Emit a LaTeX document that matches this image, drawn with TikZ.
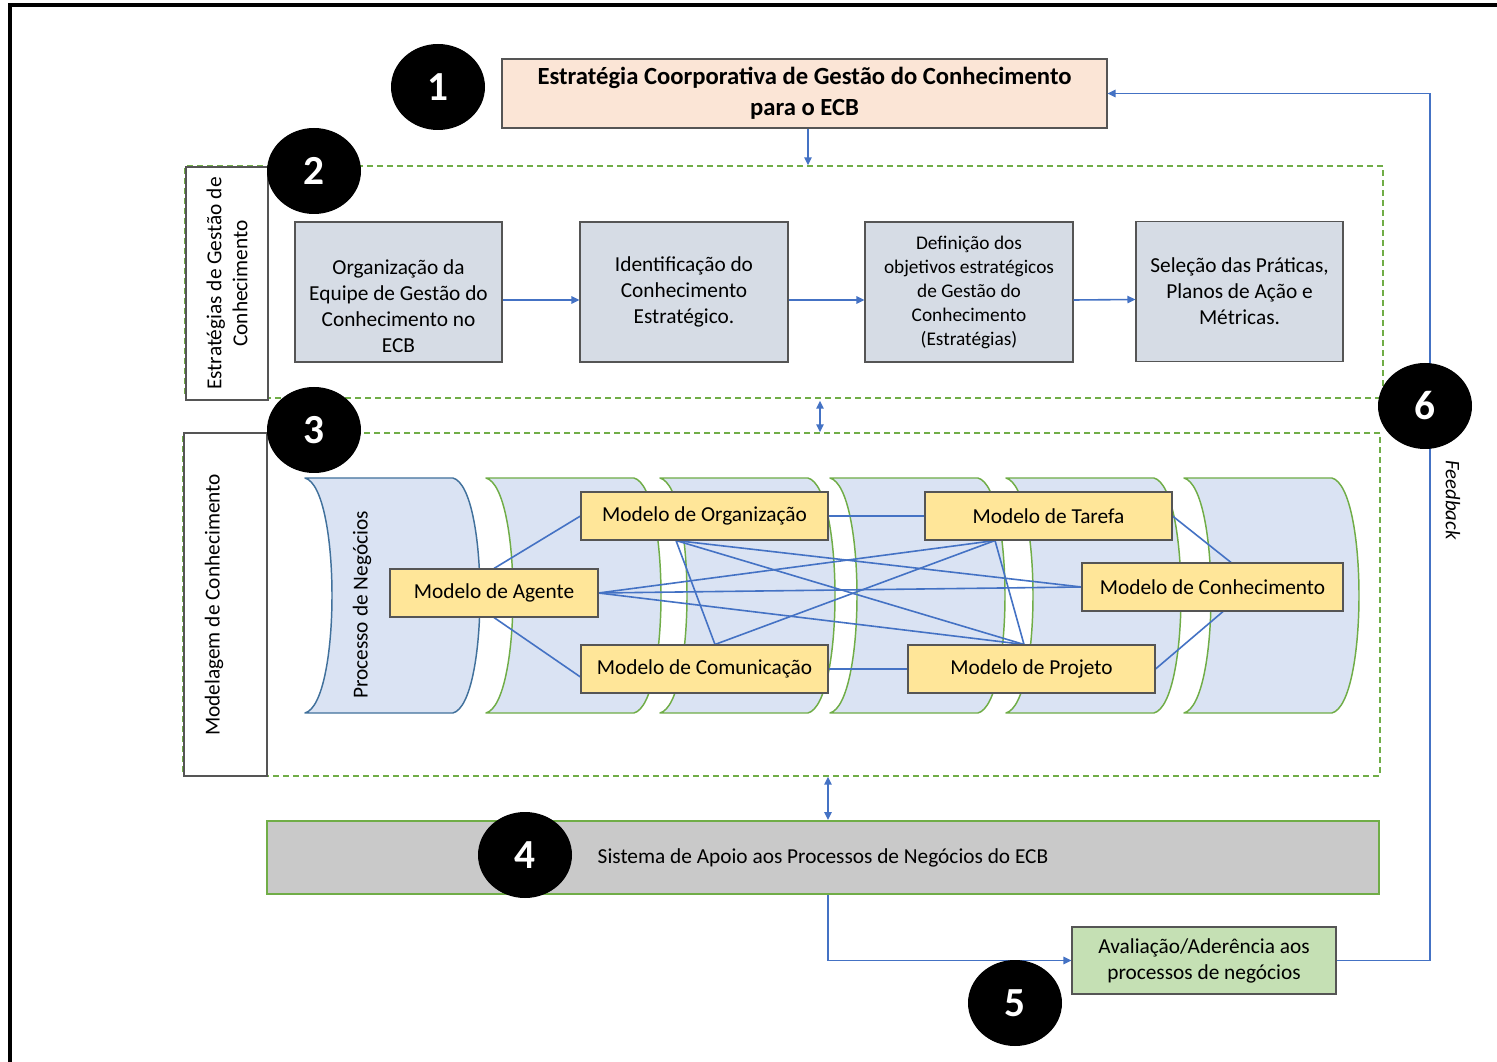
\documentclass[tikz,border=0pt]{standalone}
\usepackage{fontspec}
\setmainfont{Carlito}
\usetikzlibrary{arrows.meta,calc,shapes.geometric}

\definecolor{peach}{HTML}{FBE5D6}
\definecolor{boxgrey}{HTML}{D6DCE5}
\definecolor{edgegrey}{HTML}{555555}
\definecolor{modelyellow}{HTML}{FFE699}
\definecolor{bandblue}{HTML}{DAE3F3}
\definecolor{bandedge}{HTML}{41719C}
\definecolor{officegreen}{HTML}{70AD47}
\definecolor{linkblue}{HTML}{4472C4}
\definecolor{barfill}{HTML}{C9C9C9}
\definecolor{evalgreen}{HTML}{C5E0B4}

\pgfdeclarelayer{backdrop}
\pgfdeclarelayer{under}
\pgfsetlayers{backdrop,under,main}

\begin{document}
\begin{tikzpicture}[x=0.75pt,y=-0.75pt,
  boxsize/.style 2 args={minimum width=#1*0.75pt, minimum height=#2*0.75pt},
  numdisc/.style={ellipse, fill=black, text=white, boxsize={94}{86}, inner sep=0pt,
    font=\fontsize{31}{31}\selectfont\bfseries},
  stepbox/.style={draw=edgegrey, fill=boxgrey, line width=0.8pt, align=center, inner sep=2pt,
    font=\fontsize{16}{19.5}\selectfont},
  modelbox/.style={draw=edgegrey, fill=modelyellow, line width=0.8pt, inner sep=0pt,
    font=\fontsize{16}{19.5}\selectfont},
  zone/.style={draw=officegreen, line width=1.1pt, dash pattern=on 4.5pt off 3pt, inner sep=0pt},
  sidebox/.style={draw=edgegrey, fill=white, line width=0.8pt, inner sep=0pt},
  plaintext/.style={inner sep=0pt, align=center, font=\fontsize{16}{19.5}\selectfont},
  link/.style={draw=linkblue, line width=1.2pt},
  flow/.style={link, -{Triangle[length=6pt,width=5.5pt]}},
  both/.style={link, {Triangle[length=6pt,width=5.5pt]}-{Triangle[length=6pt,width=5.5pt]}},
]
\useasboundingbox (0,0) rectangle (1497,1062);
\begin{pgfonlayer}{backdrop}
  \fill[white] (0,0) rectangle (1497,1062);
\end{pgfonlayer}

% page frame
\draw[line width=2.4pt] (10,1075) -- (10,5) -- (1510,5);

% dashed zones and their side labels
\node[zone, boxsize={1198}{232}] (g2) at (784,282) {};
\node[zone, boxsize={1197}{343}] (g3) at (781.5,604.5) {};
\node[sidebox, boxsize={82}{233}] (lab2) at (227,283.5) {};
\node[plaintext, rotate=90] (lab2txt) at (227,283.5) {Estratégias de Gestão de\\Conhecimento};
\node[sidebox, boxsize={83}{343}] (lab3) at (225.5,604.5) {};
\node[plaintext, rotate=90] (lab3txt) at (214,605) {Modelagem de Conhecimento};

% corporate strategy
\node[draw=edgegrey, fill=peach, line width=0.8pt, boxsize={605}{69}, align=center, inner sep=0pt,
  font=\fontsize{18.5}{23}\selectfont\bfseries] (title) at (804.5,93.5)
  {Estratégia Coorporativa de Gestão do Conhecimento\\para o ECB};

% strategy steps
\node[stepbox, boxsize={207}{140}] (b1) at (398.5,292) {};
\node[plaintext] (b1txt) at (398.5,306) {Organização da\\Equipe de Gestão do\\Conhecimento no\\ECB};
\node[stepbox, boxsize={208}{140}] (b2) at (684,292) {Identificação do\\Conhecimento\\Estratégico.};
\node[stepbox, boxsize={208}{140}, font=\fontsize{14.5}{18}\selectfont] (b3) at (969,292)
  {Definição dos\\objetivos estratégicos\\de Gestão do\\Conhecimento\\(Estratégias)};
\node[stepbox, boxsize={207}{140}] (b4) at (1239.5,291.5) {Seleção das Práticas,\\Planos de Ação e\\Métricas.};

\draw[flow] ($(b1.east)+(0,8)$) -- ($(b2.west)+(0,8)$);
\draw[flow] ($(b2.east)+(0,8)$) -- ($(b3.west)+(0,8)$);
\draw[flow] ($(b3.east)+(0,8)$) -- ($(b4.west)+(0,8)$);

\draw[flow] ($(title.south)+(3.5,0)$) -- ($(g2.north)+(24,0)$);
\draw[both] ($(g2.south)+(36,2)$) -- ($(g3.north)+(38.5,0)$);

% knowledge models
\node[modelbox, boxsize={247}{48}] (org) at (704.5,516) {Modelo de Organização};
\node[modelbox, boxsize={247}{48}] (tar) at (1048.5,516) {Modelo de Tarefa};
\node[modelbox, boxsize={208}{48}] (age) at (494,593) {Modelo de Agente};
\node[modelbox, boxsize={261}{48}] (con) at (1212.5,587) {Modelo de Conhecimento};
\node[modelbox, boxsize={247}{48}] (com) at (704.5,669) {Modelo de Comunicação};
\node[modelbox, boxsize={247}{48}] (pro) at (1031.5,669) {Modelo de Projeto};

\coordinate (orgB) at ($(org.south)+(-28.5,0)$);
\coordinate (tarB) at ($(tar.south)+(-53.5,0)$);
\coordinate (comT) at ($(com.north)+(10.5,0)$);
\coordinate (proT) at ($(pro.north)+(-7.5,0)$);
\coordinate (conT) at ($(con.north)+(18.5,0)$);
\coordinate (conB) at ($(con.south)+(10.5,0)$);

\begin{pgfonlayer}{under}
  % process bands: concave left edge, convex right edge
  \foreach \xo/\ec in {305/bandedge,486/officegreen,660/officegreen,830/officegreen,1006/officegreen,1184/officegreen}
    \filldraw[fill=bandblue, draw=\ec, line width=1.1pt, line join=round]
      (\xo,478) -- (\xo+148,478) .. controls (\xo+184,488) and (\xo+184,703) .. (\xo+148,713)
      -- (\xo,713) .. controls (\xo+36,703) and (\xo+36,488) .. (\xo,478) -- cycle;
  % links between the models
  \draw[link] (age.north) -- (org.west);
  \draw[link] (age.south) -- ($(com.west)+(0,8)$);
  \draw[link] (age.east) -- (tarB);
  \draw[link] (age.east) -- (con.west);
  \draw[link] (age.east) -- (proT);
  \draw[link] (orgB) -- (comT);
  \draw[link] (orgB) -- (con.west);
  \draw[link] (orgB) -- (proT);
  \draw[link] (tarB) -- (comT);
  \draw[link] (tarB) -- (proT);
  \draw[link] (org.east) -- (tar.west);
  \draw[link] (com.east) -- (pro.west);
  \draw[link] (tar.east) -- (conT);
  \draw[link] (pro.east) -- (conB);
\end{pgfonlayer}
\node[plaintext, rotate=90] (pntxt) at (362,605) {Processo de Negócios};

% support system and evaluation
\node[draw=officegreen, fill=barfill, line width=1.5pt, boxsize={1112}{73}, inner sep=0pt,
  font=\fontsize{16}{19}\selectfont] (sis) at (823,857.5) {Sistema de Apoio aos Processos de Negócios do ECB};
\coordinate (sysin) at ($(sis.north)+(5,0)$);
\draw[both] (sysin |- g3.south) -- (sysin);

\node[draw=edgegrey, fill=evalgreen, line width=0.8pt, boxsize={264}{67}, align=center, inner sep=0pt,
  font=\fontsize{16}{19.5}\selectfont] (ava) at (1204,960.5) {Avaliação/Aderência aos\\processos de negócios};
\draw[flow] ($(sis.south)+(5,0)$) |- (ava.west);

% feedback loop
\coordinate (fbcorner) at (1430,93.5);
\draw[flow] (ava.east) -| (fbcorner) -- (title.east);
\node[inner sep=0pt, rotate=-90, font=\fontsize{15.5}{18}\selectfont\itshape] (fbtxt) at (1453,500) {Feedback};

% step numbers
\node[numdisc] (n1) at (438,87) {1};
\node[numdisc] (n2) at (314,171) {2};
\node[numdisc] (n3) at (314,430) {3};
\node[numdisc] (n4) at (525,855) {4};
\node[numdisc] (n5) at (1015,1003) {5};
\node[numdisc] (n6) at (1425,406) {6};
\end{tikzpicture}
\end{document}
